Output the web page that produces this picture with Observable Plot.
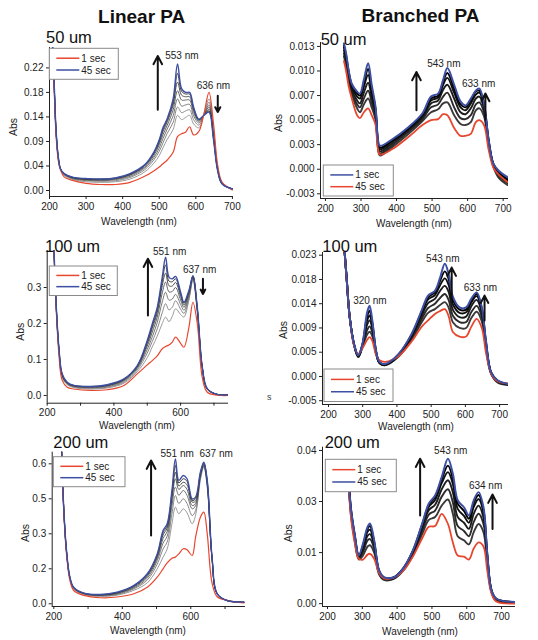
<!DOCTYPE html>
<html><head><meta charset="utf-8">
<script src="https://cdn.jsdelivr.net/npm/d3@7"></script>
<script src="https://cdn.jsdelivr.net/npm/@observablehq/plot@0.6"></script>
<style>
body{margin:0;background:#fff;}
#fig{position:relative;width:538px;height:640px;overflow:hidden;background:#fff;}
</style></head><body><div id="fig"></div>
<script>
// ---------- Panel 1: Linear PA, 50 um ----------
const p1Wl = [206,212,218,224,230,240,265,300,340,380,420,460,485,500,510,522,538,550,561,572,583,594,608,622,636,648,660,672,700];
const p1Blue = [0.30,0.21,0.11,0.062,0.040,0.031,0.024,0.022,0.021,0.023,0.031,0.047,0.070,0.093,0.115,0.132,0.168,0.232,0.187,0.180,0.180,0.153,0.131,0.138,0.144,0.095,0.035,0.012,0.003];
const p1Red = [0.30,0.20,0.10,0.055,0.038,0.025,0.018,0.013,0.011,0.011,0.015,0.026,0.036,0.043,0.049,0.056,0.070,0.099,0.104,0.107,0.117,0.102,0.108,0.140,0.180,0.125,0.045,0.015,0.001];
const p1Grays = [
 [0.30,0.205,0.105,0.058,0.039,0.028,0.020,0.016,0.015,0.016,0.021,0.034,0.050,0.064,0.078,0.094,0.112,0.138,0.130,0.134,0.138,0.122,0.115,0.140,0.168,0.115,0.042,0.014,0.002],
 [0.30,0.206,0.106,0.059,0.039,0.029,0.021,0.018,0.017,0.018,0.024,0.038,0.056,0.072,0.087,0.105,0.125,0.153,0.143,0.146,0.148,0.130,0.120,0.139,0.162,0.110,0.040,0.013,0.002],
 [0.30,0.207,0.107,0.060,0.040,0.030,0.022,0.019,0.018,0.020,0.026,0.041,0.060,0.078,0.095,0.113,0.137,0.168,0.155,0.157,0.158,0.137,0.124,0.138,0.157,0.106,0.039,0.013,0.003],
 [0.30,0.208,0.108,0.060,0.040,0.030,0.023,0.020,0.019,0.021,0.028,0.043,0.064,0.084,0.102,0.120,0.148,0.183,0.166,0.166,0.166,0.143,0.127,0.138,0.153,0.102,0.038,0.012,0.003],
 [0.30,0.209,0.109,0.061,0.040,0.031,0.023,0.021,0.020,0.022,0.029,0.045,0.067,0.088,0.108,0.126,0.157,0.199,0.175,0.172,0.172,0.148,0.129,0.138,0.149,0.099,0.037,0.012,0.003],
 [0.30,0.210,0.110,0.062,0.040,0.031,0.024,0.021,0.021,0.023,0.030,0.046,0.069,0.091,0.112,0.130,0.163,0.215,0.182,0.177,0.177,0.151,0.130,0.138,0.146,0.097,0.036,0.012,0.003]
];
const p1XTicks = [200,300,400,500,600,700];
const p1YTicks = [0,0.045,0.09,0.135,0.18,0.225];
const p1YLabels = ["0.00","0.04","0.09","0.14","0.18","0.22"];
const p1Notes = [{x:562,y:0.248,t:"553 nm"},{x:648,y:0.193,t:"636 nm"}];
const p1Arrows = [{x:496,y1:0.148,y2:0.247},{x:660,y1:0.174,y2:0.144}];

// ---------- Panel 2: Branched PA, 50 um ----------
const p2Wl = [252,258,265,274,289,297,308,320,330,341,347,353,386,434,473,497,517,531,543,562,580,594,609,623,633,646,659,672,686,712];
const p2Blue = [0.0128,0.0118,0.0101,0.0087,0.0079,0.0077,0.0091,0.0108,0.0086,0.0063,0.0033,0.0024,0.0030,0.0043,0.0057,0.0074,0.0077,0.0091,0.0103,0.0086,0.0069,0.0065,0.0072,0.0080,0.0082,0.0067,0.0030,0.0006,-0.0001,-0.0008];
const p2Red = [0.0110,0.0100,0.0085,0.0072,0.0055,0.0052,0.0058,0.0062,0.0055,0.0045,0.0022,0.0015,0.0020,0.0033,0.0045,0.0050,0.0051,0.0056,0.0055,0.0042,0.0034,0.0034,0.0036,0.0048,0.0050,0.0045,0.0020,0.0002,-0.0005,-0.0013];
const p2Grays = [
 [0.0115,0.0105,0.0090,0.0076,0.0062,0.0058,0.0066,0.0072,0.0063,0.0050,0.0024,0.0014,0.0022,0.0036,0.0049,0.0058,0.0061,0.0067,0.0068,0.0055,0.0046,0.0045,0.0048,0.0060,0.0062,0.0054,0.0024,0.0003,-0.0008,-0.0016],
 [0.0118,0.0108,0.0093,0.0079,0.0066,0.0063,0.0072,0.0080,0.0068,0.0053,0.0026,0.0016,0.0024,0.0038,0.0051,0.0063,0.0066,0.0074,0.0078,0.0063,0.0052,0.0051,0.0055,0.0066,0.0068,0.0058,0.0026,0.0004,-0.0006,-0.0014],
 [0.0121,0.0111,0.0096,0.0081,0.0070,0.0067,0.0078,0.0088,0.0073,0.0056,0.0028,0.0018,0.0026,0.0040,0.0053,0.0067,0.0070,0.0081,0.0086,0.0072,0.0058,0.0056,0.0062,0.0072,0.0074,0.0062,0.0028,0.0005,-0.0004,-0.0012],
 [0.0124,0.0114,0.0098,0.0084,0.0074,0.0072,0.0084,0.0096,0.0078,0.0059,0.0030,0.0020,0.0028,0.0041,0.0055,0.0070,0.0073,0.0086,0.0093,0.0078,0.0063,0.0060,0.0067,0.0076,0.0078,0.0064,0.0029,0.0005,-0.0003,-0.0011],
 [0.0126,0.0116,0.0100,0.0086,0.0077,0.0075,0.0088,0.0102,0.0082,0.0061,0.0032,0.0022,0.0029,0.0042,0.0056,0.0072,0.0075,0.0089,0.0098,0.0082,0.0066,0.0063,0.0070,0.0079,0.0080,0.0066,0.0030,0.0006,-0.0002,-0.0010]
];
const p2XTicks = [200,300,400,500,600,700];
const p2YTicks = [-0.0025,0,0.0025,0.005,0.0075,0.01,0.0125];
const p2YLabels = ["-0.003","0.000","0.003","0.005","0.007","0.010","0.013"];
const p2Notes = [{x:533,y:0.01069,t:"543 nm"},{x:631,y:0.00873,t:"633 nm"}];
const p2Arrows = [{x:456,y1:0.0060,y2:0.0099},{x:650,y1:0.00506,y2:0.0077}];

// ---------- Panel 3: Linear PA, 100 um ----------
const p3Wl = [220,225,235,245,260,280,330,380,430,470,500,515,530,545,555,565,575,585,600,610,625,637,650,665,680,710,745];
const p3Blue = [0.42,0.29,0.134,0.060,0.037,0.028,0.025,0.030,0.046,0.083,0.153,0.199,0.245,0.329,0.384,0.329,0.324,0.331,0.287,0.259,0.292,0.333,0.245,0.079,0.019,0.003,0.002];
const p3Red = [0.42,0.28,0.116,0.042,0.023,0.018,0.014,0.016,0.028,0.060,0.085,0.097,0.110,0.130,0.136,0.140,0.148,0.162,0.145,0.134,0.190,0.259,0.200,0.050,0.009,0.001,0.000];
const p3Grays = [
 [0.42,0.285,0.125,0.050,0.030,0.022,0.018,0.021,0.034,0.066,0.105,0.135,0.165,0.200,0.218,0.205,0.220,0.241,0.225,0.218,0.265,0.320,0.230,0.075,0.016,0.003,0.002],
 [0.42,0.286,0.127,0.052,0.032,0.024,0.020,0.023,0.037,0.071,0.118,0.150,0.185,0.230,0.255,0.238,0.245,0.263,0.240,0.228,0.270,0.324,0.235,0.076,0.017,0.003,0.002],
 [0.42,0.287,0.129,0.054,0.033,0.025,0.022,0.025,0.040,0.075,0.128,0.163,0.203,0.260,0.287,0.265,0.268,0.281,0.253,0.237,0.276,0.327,0.238,0.077,0.018,0.003,0.002],
 [0.42,0.288,0.130,0.056,0.034,0.026,0.023,0.027,0.042,0.078,0.137,0.176,0.218,0.285,0.315,0.288,0.289,0.300,0.265,0.245,0.282,0.329,0.240,0.078,0.018,0.003,0.002],
 [0.42,0.289,0.132,0.058,0.035,0.027,0.024,0.028,0.044,0.080,0.144,0.186,0.230,0.305,0.340,0.305,0.304,0.314,0.275,0.251,0.286,0.331,0.242,0.078,0.019,0.003,0.002],
 [0.42,0.290,0.133,0.059,0.036,0.028,0.025,0.029,0.045,0.082,0.149,0.193,0.239,0.318,0.363,0.318,0.316,0.324,0.282,0.256,0.290,0.332,0.244,0.079,0.019,0.003,0.002]
];
const p3XTicks = [200,400,600];
const p3XMinor = [300,500,700];
const p3YTicks = [0,0.1,0.2,0.3];
const p3YLabels = ["0.0","0.1","0.2","0.3"];
const p3Notes = [{x:567,y:0.398,t:"551 nm"},{x:657,y:0.349,t:"637 nm"}];
const p3Arrows = [{x:502,y1:0.222,y2:0.38},{x:667,y1:0.324,y2:0.282}];

// ---------- Panel 4: Branched PA, 100 um ----------
const p4Wl = [246,253,262,275,287,299,313,320,328,339,349,366,405,443,472,491,511,525,540,551,564,583,602,617,633,648,660,675,694,724];
const p4Blue = [0.0240,0.0184,0.0110,0.0060,0.0039,0.0060,0.0119,0.0131,0.0104,0.0048,0.0027,0.0023,0.0042,0.0079,0.0122,0.0150,0.0159,0.0181,0.0209,0.0190,0.0147,0.0128,0.0128,0.0144,0.0156,0.0128,0.0067,0.0008,-0.0007,-0.0014];
const p4Red = [0.0240,0.0180,0.0110,0.0056,0.0042,0.0052,0.0068,0.0073,0.0066,0.0040,0.0030,0.0027,0.0038,0.0065,0.0092,0.0104,0.0116,0.0121,0.0125,0.0112,0.0082,0.0074,0.0074,0.0092,0.0107,0.0090,0.0045,0.0006,-0.0009,-0.0013];
const p4Grays = [
 [0.0240,0.0181,0.0110,0.0057,0.0036,0.0054,0.0078,0.0083,0.0075,0.0042,0.0026,0.0022,0.0037,0.0068,0.0100,0.0118,0.0125,0.0132,0.0138,0.0128,0.0100,0.0090,0.0090,0.0108,0.0120,0.0102,0.0052,0.0005,-0.0011,-0.0016],
 [0.0240,0.0182,0.0110,0.0058,0.0036,0.0055,0.0086,0.0093,0.0082,0.0043,0.0025,0.0021,0.0038,0.0071,0.0106,0.0127,0.0135,0.0145,0.0153,0.0142,0.0112,0.0101,0.0101,0.0119,0.0131,0.0110,0.0056,0.0006,-0.0010,-0.0015],
 [0.0240,0.0182,0.0110,0.0058,0.0037,0.0057,0.0096,0.0104,0.0089,0.0045,0.0025,0.0021,0.0039,0.0074,0.0112,0.0136,0.0144,0.0158,0.0168,0.0157,0.0123,0.0110,0.0111,0.0130,0.0142,0.0117,0.0060,0.0007,-0.0009,-0.0015],
 [0.0240,0.0183,0.0110,0.0059,0.0038,0.0058,0.0104,0.0113,0.0095,0.0046,0.0026,0.0022,0.0040,0.0076,0.0117,0.0143,0.0151,0.0168,0.0182,0.0170,0.0133,0.0118,0.0119,0.0137,0.0149,0.0122,0.0063,0.0007,-0.0008,-0.0014],
 [0.0240,0.0183,0.0110,0.0059,0.0038,0.0059,0.0112,0.0122,0.0100,0.0047,0.0026,0.0022,0.0041,0.0078,0.0120,0.0147,0.0156,0.0176,0.0195,0.0181,0.0141,0.0124,0.0124,0.0141,0.0153,0.0126,0.0065,0.0008,-0.0008,-0.0014]
];
const p4XTicks = [200,300,400,500,600,700];
const p4YTicks = [-0.0045,0,0.0045,0.009,0.0135,0.018,0.0225];
const p4YLabels = ["-0.005","0.000","0.005","0.009","0.014","0.018","0.023"];
const p4Notes = [{x:534,y:0.0218,t:"543 nm"},{x:644,y:0.0165,t:"633 nm"},{x:321,y:0.0141,t:"320 nm"}];
const p4Arrows = [{x:560,y1:0.0146,y2:0.0202},{x:656,y1:0.0104,y2:0.0150}];

// ---------- Panel 5: Linear PA, 200 um ----------
const p5Wl = [222,229,237,247,258,288,336,385,434,473,502,519,531,545,555,565,578,589,604,614,628,638,648,662,677,706,755];
const p5Blue = [0.70,0.41,0.23,0.114,0.071,0.046,0.040,0.050,0.079,0.129,0.214,0.314,0.343,0.486,0.621,0.529,0.550,0.536,0.450,0.457,0.564,0.607,0.529,0.200,0.043,0.014,0.007];
const p5Red = [0.70,0.40,0.214,0.100,0.057,0.036,0.026,0.029,0.043,0.071,0.114,0.150,0.175,0.195,0.200,0.214,0.236,0.232,0.207,0.286,0.371,0.393,0.300,0.090,0.030,0.015,0.004];
const p5Grays = [
 [0.70,0.405,0.220,0.107,0.064,0.040,0.032,0.037,0.058,0.090,0.150,0.200,0.235,0.343,0.414,0.386,0.407,0.390,0.343,0.380,0.530,0.586,0.500,0.190,0.042,0.013,0.006],
 [0.70,0.405,0.222,0.109,0.066,0.042,0.034,0.040,0.064,0.102,0.170,0.235,0.265,0.385,0.464,0.430,0.450,0.430,0.378,0.400,0.540,0.590,0.505,0.192,0.042,0.013,0.006],
 [0.70,0.407,0.225,0.110,0.067,0.043,0.036,0.043,0.068,0.110,0.185,0.260,0.290,0.420,0.500,0.465,0.486,0.465,0.407,0.420,0.545,0.593,0.510,0.194,0.043,0.014,0.006],
 [0.70,0.408,0.226,0.111,0.068,0.044,0.037,0.045,0.072,0.117,0.196,0.280,0.310,0.445,0.536,0.490,0.507,0.490,0.421,0.430,0.550,0.596,0.515,0.196,0.043,0.014,0.007],
 [0.70,0.409,0.228,0.112,0.069,0.045,0.038,0.047,0.075,0.122,0.204,0.295,0.325,0.462,0.564,0.505,0.521,0.510,0.436,0.440,0.555,0.600,0.520,0.198,0.043,0.014,0.007],
 [0.70,0.410,0.229,0.113,0.070,0.045,0.039,0.048,0.077,0.126,0.210,0.305,0.335,0.475,0.593,0.518,0.536,0.525,0.443,0.450,0.560,0.603,0.525,0.199,0.043,0.014,0.007]
];
const p5XTicks = [200,400,600];
const p5XMinor = [300,500,700];
const p5YTicks = [0,0.15,0.3,0.45,0.6];
const p5YLabels = ["0.0","0.2","0.3","0.5","0.6"];
const p5Notes = [{x:560,y:0.643,t:"551 nm"},{x:674,y:0.643,t:"637 nm"}];
const p5Arrows = [{x:484,y1:0.293,y2:0.614}];

// ---------- Panel 6: Branched PA, 200 um ----------
const p6Wl = [258,267,278,290,302,315,322,334,348,362,389,417,445,472,491,509,528,546,560,574,592,606,620,634,648,659,671,685,738];
const p6Blue = [0.0351,0.0236,0.0171,0.0118,0.0147,0.0188,0.0196,0.0155,0.0082,0.0065,0.0064,0.0086,0.0130,0.0196,0.0245,0.0265,0.0310,0.0355,0.0318,0.0253,0.0236,0.0216,0.0253,0.0273,0.0236,0.0122,0.0033,0.0012,0.0004];
const p6Red = [0.0330,0.0215,0.0150,0.0110,0.0108,0.0120,0.0122,0.0110,0.0075,0.0062,0.0063,0.0080,0.0115,0.0160,0.0188,0.0190,0.0220,0.0195,0.0150,0.0118,0.0115,0.0108,0.0135,0.0150,0.0140,0.0080,0.0025,0.0005,0.0000];
const p6Grays = [
 [0.0335,0.0220,0.0155,0.0108,0.0118,0.0140,0.0143,0.0125,0.0072,0.0058,0.0060,0.0080,0.0118,0.0170,0.0205,0.0212,0.0240,0.0255,0.0220,0.0165,0.0155,0.0145,0.0175,0.0195,0.0175,0.0095,0.0028,0.0007,0.0002],
 [0.0340,0.0225,0.0160,0.0111,0.0126,0.0155,0.0158,0.0135,0.0075,0.0060,0.0061,0.0082,0.0122,0.0178,0.0218,0.0228,0.0262,0.0280,0.0248,0.0190,0.0178,0.0165,0.0200,0.0220,0.0195,0.0105,0.0030,0.0009,0.0003],
 [0.0344,0.0229,0.0164,0.0114,0.0133,0.0166,0.0170,0.0143,0.0078,0.0062,0.0062,0.0083,0.0125,0.0185,0.0229,0.0242,0.0280,0.0302,0.0273,0.0212,0.0198,0.0183,0.0220,0.0240,0.0210,0.0112,0.0031,0.0010,0.0003],
 [0.0347,0.0232,0.0167,0.0116,0.0139,0.0176,0.0181,0.0148,0.0080,0.0063,0.0063,0.0085,0.0127,0.0190,0.0237,0.0254,0.0295,0.0322,0.0293,0.0232,0.0215,0.0198,0.0237,0.0256,0.0223,0.0117,0.0032,0.0011,0.0004],
 [0.0349,0.0234,0.0169,0.0117,0.0143,0.0183,0.0190,0.0152,0.0081,0.0064,0.0064,0.0086,0.0129,0.0194,0.0242,0.0261,0.0304,0.0338,0.0306,0.0245,0.0227,0.0208,0.0247,0.0266,0.0230,0.0120,0.0033,0.0012,0.0004]
];
const p6XTicks = [200,300,400,500,600,700];
const p6YTicks = [0,0.0125,0.025,0.0375];
const p6YLabels = ["0.00","0.01","0.03","0.04"];
const p6Notes = [{x:554,y:0.0373,t:"543 nm"},{x:654,y:0.0289,t:"634 nm"}];
const p6Arrows = [{x:466,y1:0.0216,y2:0.0355},{x:674,y1:0.0183,y2:0.0267}];

// ---------- styling ----------
const RED = "#e8472f", BLUE = "#3c4fa3";
const FONT = "'Liberation Sans', Arial, sans-serif";
const linGrays = ["#8e8e8e","#7a7a7a","#666666","#525252","#3e3e3e","#2a2a2a"];
const brGrays = ["#3a3a3a","#2a2a2a","#1c1c1c","#101010","#000000"];

const panels = [
 {wl:p1Wl, red:p1Red, blue:p1Blue, grays:p1Grays, gc:linGrays, gw:0.9, rw:1.2, bw:1.4, left:0, top:30, w:245, h:200, m:[17,12,34,49], xd:[200,703], yd:[-0.011,0.2624], xt:p1XTicks, xm:[], yt:p1YTicks, yl:p1YLabels, notes:p1Notes, arrows:p1Arrows},
 {wl:p2Wl, red:p2Red, blue:p2Blue, grays:p2Grays, gc:brGrays, gw:1.9, rw:1.8, bw:2.0, left:268, top:30, w:250, h:200, m:[12,10,32,52], xd:[186,715], yd:[-0.00298,0.0129], xt:p2XTicks, xm:[], yt:p2YTicks, yl:p2YLabels, notes:p2Notes, arrows:p2Arrows},
 {wl:p3Wl, red:p3Red, blue:p3Blue, grays:p3Grays, gc:linGrays, gw:0.9, rw:1.2, bw:1.4, left:0, top:235, w:245, h:200, m:[15,17,32.3,46.7], xd:[200,743.6], yd:[-0.0214,0.4028], xt:p3XTicks, xm:p3XMinor, yt:p3YTicks, yl:p3YLabels, notes:p3Notes, arrows:p3Arrows},
 {wl:p4Wl, red:p4Red, blue:p4Blue, grays:p4Grays, gc:brGrays, gw:1.9, rw:1.8, bw:2.0, left:268, top:235, w:250, h:200, m:[17,10,31,54], xd:[182.5,726], yd:[-0.0052,0.0230], xt:p4XTicks, xm:[], yt:p4YTicks, yl:p4YLabels, notes:p4Notes, arrows:p4Arrows},
 {wl:p5Wl, red:p5Red, blue:p5Blue, grays:p5Grays, gc:linGrays, gw:0.9, rw:1.2, bw:1.4, left:0, top:435, w:255, h:205, m:[16.7,10,34,51.7], xd:[195.3,759.7], yd:[-0.0116,0.6498], xt:p5XTicks, xm:p5XMinor, yt:p5YTicks, yl:p5YLabels, notes:p5Notes, arrows:p5Arrows},
 {wl:p6Wl, red:p6Red, blue:p6Blue, grays:p6Grays, gc:brGrays, gw:1.9, rw:1.8, bw:2.0, left:268, top:435, w:255, h:205, m:[11.7,8,34,54], xd:[185.6,740], yd:[-0.0007,0.0383], xt:p6XTicks, xm:[], yt:p6YTicks, yl:p6YLabels, notes:p6Notes, arrows:p6Arrows}
];

const fig = document.getElementById("fig");

panels.forEach(p => {
  const series = p.grays.map((g, i) => ({vals: g, color: p.gc[i], w: p.gw}))
    .concat([{vals: p.red, color: RED, w: p.rw}, {vals: p.blue, color: BLUE, w: p.bw}]);
  const marks = [];
  series.forEach(s => {
    const data = p.wl.map((x, i) => ({x, y: s.vals[i]}));
    marks.push(Plot.line(data, {x: "x", y: "y", stroke: s.color, strokeWidth: s.w, curve: "catmull-rom", clip: true}));
  });
  marks.push(Plot.ruleX([p.xd[0]], {stroke: "#222", strokeWidth: 1}));
  marks.push(Plot.ruleY([p.yd[0]], {stroke: "#222", strokeWidth: 1}));
  marks.push(Plot.axisX({ticks: p.xt, tickSize: 3, tickPadding: 3, label: null, tickFormat: d => String(d)}));
  if (p.xm.length) marks.push(Plot.axisX({ticks: p.xm, tickSize: 3, label: null, tickFormat: () => ""}));
  marks.push(Plot.axisY({ticks: p.yt, tickSize: 3, tickPadding: 3, label: null,
    tickFormat: d => p.yl[p.yt.findIndex(t => Math.abs(t - d) < 1e-9)]}));
  marks.push(Plot.arrow(p.arrows, {x1: "x", x2: "x", y1: "y1", y2: "y2", stroke: "#111", strokeWidth: 2, headLength: 7, headAngle: 55}));
  marks.push(Plot.text(p.notes, {x: "x", y: "y", text: "t", fontSize: 10, fill: "#222"}));
  const svg = Plot.plot({
    width: p.w, height: p.h,
    marginTop: p.m[0], marginRight: p.m[1], marginBottom: p.m[2], marginLeft: p.m[3],
    x: {type: "linear", domain: p.xd},
    y: {type: "linear", domain: p.yd},
    style: {fontFamily: FONT, fontSize: "10px", color: "#222", background: "none", overflow: "visible"},
    marks
  });
  svg.style.position = "absolute";
  svg.style.left = p.left + "px";
  svg.style.top = p.top + "px";
  svg.style.maxWidth = "none";
  fig.appendChild(svg);
});

// ---------- text overlay: titles, panel labels, axis titles, legends ----------
const titles = [{x:141.7, y:23, t:"Linear PA"}, {x:420.5, y:22, t:"Branched PA"}];
const panelLabels = [{x:46,y:43.3,t:"50 um"},{x:320.7,y:45,t:"50 um"},{x:45,y:252,t:"100 um"},{x:322.3,y:251.7,t:"100 um"},{x:53.3,y:448.3,t:"200 um"},{x:324.7,y:448.3,t:"200 um"}];
const absLabels = [{x:13,y:127},{x:278,y:123},{x:20,y:331.7},{x:283,y:330},{x:25,y:533},{x:288.7,y:533.3}];
const wlLabels = [{x:139,y:225},{x:414,y:226.5},{x:137,y:428.5},{x:416,y:430},{x:148,y:634},{x:420,y:635}];
const legendTexts = ["1 sec", "45 sec"];
const legends = [
 {x:49.3, y:48.3, w:69, h:31, c:[RED, BLUE]},
 {x:323.3, y:165, w:70, h:31, c:[BLUE, RED]},
 {x:49.3, y:266, w:68, h:29.5, c:[RED, BLUE]},
 {x:324, y:369, w:69, h:32.5, c:[RED, BLUE]},
 {x:53.3, y:456.7, w:71.7, h:30, c:[RED, BLUE]},
 {x:325.3, y:459.3, w:71, h:32.4, c:[RED, BLUE]}
];

const ov = d3.select(fig).append("svg")
  .attr("width", 538).attr("height", 640)
  .style("position", "absolute").style("left", "0px").style("top", "0px")
  .style("font-family", FONT);

ov.selectAll("text.title").data(titles).join("text")
  .attr("x", d => d.x).attr("y", d => d.y).attr("text-anchor", "middle")
  .attr("font-size", 19).attr("font-weight", "bold").attr("fill", "#111").text(d => d.t);
ov.selectAll("text.pl").data(panelLabels).join("text")
  .attr("x", d => d.x).attr("y", d => d.y)
  .attr("font-size", 16.5).attr("fill", "#111").text(d => d.t);
ov.selectAll("text.abs").data(absLabels).join("text")
  .attr("transform", d => `translate(${d.x},${d.y}) rotate(-90)`)
  .attr("text-anchor", "middle").attr("dy", "0.35em")
  .attr("font-size", 10.5).attr("fill", "#222").text("Abs");
ov.selectAll("text.wl").data(wlLabels).join("text")
  .attr("x", d => d.x).attr("y", d => d.y).attr("text-anchor", "middle")
  .attr("font-size", 10).attr("fill", "#222").text("Wavelength (nm)");
ov.append("text").attr("x", 267).attr("y", 400).attr("font-size", 9).attr("fill", "#444").text("s");

legends.forEach(L => {
  const g = ov.append("g");
  g.append("rect").attr("x", L.x).attr("y", L.y).attr("width", L.w).attr("height", L.h)
    .attr("fill", "#fff").attr("stroke", "#8a8a8a").attr("stroke-width", 1);
  const rows = [L.y + L.h * 0.32, L.y + L.h * 0.7];
  rows.forEach((ry, i) => {
    g.append("line").attr("x1", L.x + 7).attr("x2", L.x + 30).attr("y1", ry).attr("y2", ry)
      .attr("stroke", L.c[i]).attr("stroke-width", 1.5);
    g.append("text").attr("x", L.x + 32).attr("y", ry).attr("dy", "0.35em")
      .attr("font-size", 10).attr("fill", "#222").text(legendTexts[i]);
  });
});
</script></body></html>
